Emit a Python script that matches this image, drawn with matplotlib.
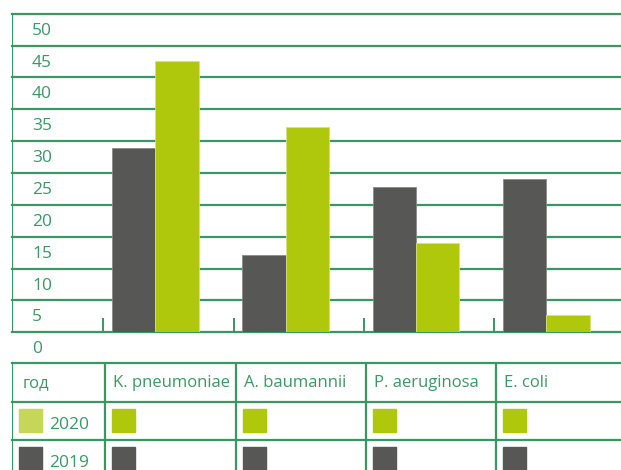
import matplotlib
matplotlib.use("Agg")
import matplotlib.pyplot as plt
import matplotlib.transforms as mtransforms
from matplotlib.patches import Rectangle

plt.rcParams['font.family'] = ['Open Sans', 'DejaVu Sans']

categories = ["K. pneumoniae", "A. baumannii", "P. aeruginosa", "E. coli"]
years = ["2020", "2019"]
values_2019 = [28.9, 12.1, 22.8, 24.1]
values_2020 = [42.6, 32.2, 14.0, 2.7]
y_ticks = [0, 5, 10, 15, 20, 25, 30, 35, 40, 45, 50]
header_first = "год"

GREEN = "#389763"
TEXT_GREEN = "#3a9866"
GRAY = "#575756"
LIME = "#afc80b"
LIME_LIGHT = "#c6d65a"

W, H = 621, 470
fig = plt.figure(figsize=(W / 100, H / 100), dpi=100)

# chart axes
left_px, right_px, top_px, bot_px = 12, 621, 13.7, 332.3
unit_px = 130.3      # px per category
c0_px = 155.4        # px of first category centre
xl = ((left_px - c0_px) / unit_px, (right_px - c0_px) / unit_px)
ax = fig.add_axes([left_px / W, 1 - bot_px / H, (right_px - left_px) / W, (bot_px - top_px) / H])
ax.set_xlim(*xl)
ax.set_ylim(0, 50)
for s in ax.spines.values():
    s.set_visible(False)
ax.set_xticks([])
ax.set_yticks([])

bw = 43.5 / unit_px
xs = list(range(len(categories)))
ax.bar([x - bw / 2 for x in xs], values_2019, width=bw, color=GRAY, edgecolor="#8a8a88", linewidth=0.6, zorder=3)
ax.bar([x + bw / 2 for x in xs], values_2020, width=bw, color=LIME, edgecolor="#d6e47a", linewidth=0.6, zorder=3)

for t in y_ticks:
    ax.axhline(t, color=GREEN, linewidth=1.6, zorder=2, clip_on=False)
ax.axvline(xl[0], color=GREEN, linewidth=1.6, zorder=2)

tick_sep = 0.40
ax.vlines([x - tick_sep for x in xs], 0, 2.2, color=GREEN, linewidth=1.4, zorder=2)

off = mtransforms.ScaledTranslation(0, -17 / 100, fig.dpi_scale_trans)
for t in y_ticks:
    ax.text(xl[0] + 20 / unit_px, t, str(t), transform=ax.transData + off,
            ha="left", va="center", fontsize=12.5, color=TEXT_GREEN, clip_on=False)

# table axes
t_top = 363
row_px = 38.5
tax = fig.add_axes([left_px / W, 0, (right_px - left_px) / W, (H - t_top) / H])
tax.set_xlim(*xl)
tax.set_ylim((H - t_top) / row_px, 0)
tax.axis("off")

sep = 0.384
col_bounds = [xl[0]] + [x - sep for x in xs]
for r in [0, 1, 2, 3]:
    tax.axhline(r, color=GREEN, linewidth=1.6, clip_on=False)
for cb in col_bounds:
    tax.axvline(cb, color=GREEN, linewidth=1.6)

pad = 8 / unit_px
tax.text(xl[0] + 11 / unit_px, 0.52, header_first, ha="left", va="center", fontsize=12, color=TEXT_GREEN)
for x, name in zip(xs, categories):
    tax.text(x - sep + pad, 0.52, name, ha="left", va="center", fontsize=12, color=TEXT_GREEN)

sw_w = 23 / unit_px
sw_h = 23 / row_px
sw_off = 7 / unit_px
sw_top = 7 / row_px
year_colors = {"2020": LIME, "2019": GRAY}
legend_colors = {"2020": LIME_LIGHT, "2019": GRAY}
for r, yr in enumerate(years, start=1):
    tax.add_patch(Rectangle((xl[0] + sw_off, r + sw_top), sw_w, sw_h, color=legend_colors[yr]))
    tax.text(xl[0] + 37 / unit_px, r + 0.6, yr, ha="left", va="center", fontsize=12.5, color=TEXT_GREEN)
    for x in xs:
        tax.add_patch(Rectangle((x - sep + sw_off, r + sw_top), sw_w, sw_h, color=year_colors[yr]))

fig.savefig("out.png", dpi=100)
